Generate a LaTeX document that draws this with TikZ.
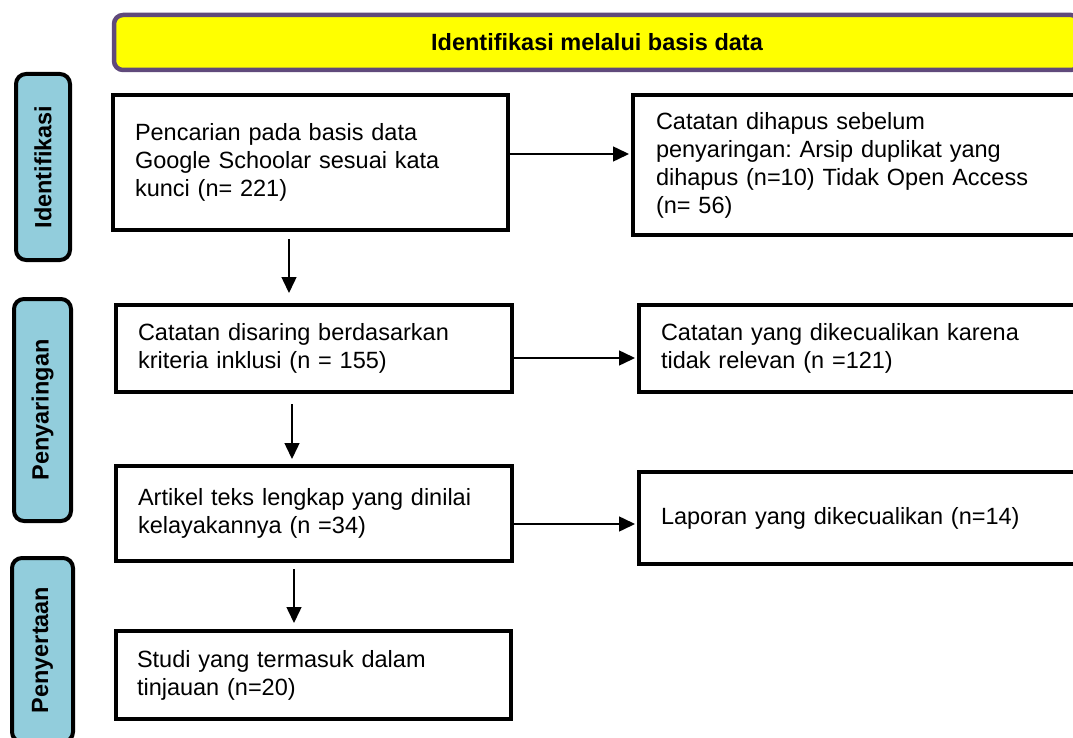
\documentclass[tikz,border=0pt]{standalone}
\usepackage{fontspec}
\setmainfont{Liberation Sans}
\usetikzlibrary{arrows.meta}
\frenchspacing
\definecolor{tabblue}{RGB}{146,205,220}
\definecolor{bannerpurple}{RGB}{96,74,123}
\definecolor{banneryellow}{RGB}{255,255,0}
\tikzset{
  mainbox/.style={draw=black, line width=4pt, fill=white, rectangle, align=left, inner sep=0pt,
    font=\fontsize{23.5}{28}\selectfont},
  tabbox/.style={draw=black, line width=4pt, fill=tabblue, rectangle, rounded corners=10pt,
    inner sep=0pt, rotate=90, font=\fontsize{23.5}{28}\selectfont\bfseries},
  bannerbox/.style={draw=bannerpurple, line width=4.5pt, fill=banneryellow, rectangle, rounded corners=9pt,
    inner sep=0pt, font=\fontsize{23.5}{28}\selectfont\bfseries},
  arr/.style={line width=1.5pt, -{Triangle[length=16pt,width=15pt]}}
}
\begin{document}
\begin{tikzpicture}[x=1pt,y=-1pt]
\useasboundingbox (0,0) rectangle (1073,738);
\clip (0,0) rectangle (1073,738);
\fill[white] (0,0) rectangle (1073,738);

% banner
\node[bannerbox, minimum width=966pt, minimum height=55pt] (banner) at (597,42.5) {\raisebox{-3pt}{Identifikasi melalui basis data}};

% side tabs
\node[tabbox, minimum width=186pt, minimum height=54pt] (t1) at (43,167) {Identifikasi};
\node[tabbox, minimum width=222pt, minimum height=57pt] (t2) at (42.5,410) {Penyaringan};
\node[tabbox, minimum width=184pt, minimum height=61pt] (t3) at (42.5,650) {Penyertaan};

% main column
\node[mainbox, minimum width=395pt, minimum height=135pt, text width=351pt] (b1) at (310.5,162.5)
  {Pencarian pada basis data\\Google Schoolar sesuai kata\\kunci (n= 221)};
\node[mainbox, minimum width=396pt, minimum height=87pt, text width=352pt] (b2) at (314,348.5)
  {Catatan disaring berdasarkan\\kriteria inklusi (n = 155)};
\node[mainbox, minimum width=396pt, minimum height=95pt, text width=352pt] (b3) at (314,513.5)
  {Artikel teks lengkap yang dinilai\\kelayakannya (n =34)};
\node[mainbox, minimum width=395pt, minimum height=88pt, text width=353pt] (b4) at (313.5,675)
  {Studi yang termasuk dalam\\tinjauan (n=20)};

% right column
\node[mainbox, minimum width=465pt, minimum height=140pt, text width=419pt] (r1) at (865.5,165)
  {Catatan dihapus sebelum\\penyaringan: Arsip duplikat yang\\dihapus (n=10) Tidak Open Access\\(n= 56)};
\node[mainbox, minimum width=459pt, minimum height=87pt, text width=415pt] (r2) at (868.5,348.5)
  {Catatan yang dikecualikan karena\\tidak relevan (n =121)};
\node[mainbox, minimum width=459pt, minimum height=92pt, text width=415pt] (r3) at (868.5,518)
  {Laporan yang dikecualikan (n=14)};

% horizontal arrows
\draw[arr, shorten >=2pt] ([yshift=8.5pt]b1.east) -- ([yshift=8.5pt]b1.east -| r1.west);
\draw[arr, shorten >=2pt] ([yshift=-9.5pt]b2.east) -- ([yshift=-9.5pt]b2.east -| r2.west);
\draw[arr, shorten >=2pt] ([yshift=-10.5pt]b3.east) -- ([yshift=-10.5pt]b3.east -| r3.west);

% vertical arrows
\draw[arr] ([xshift=-21.5pt,yshift=-7pt]b1.south) -- ([xshift=-25pt,yshift=10pt]b2.north);
\draw[arr] ([xshift=-22pt,yshift=-10pt]b2.south) -- ([xshift=-22pt,yshift=5pt]b3.north);
\draw[arr] ([xshift=-20pt,yshift=-6pt]b3.south) -- ([xshift=-19.5pt,yshift=6pt]b4.north);
\end{tikzpicture}
\end{document}
